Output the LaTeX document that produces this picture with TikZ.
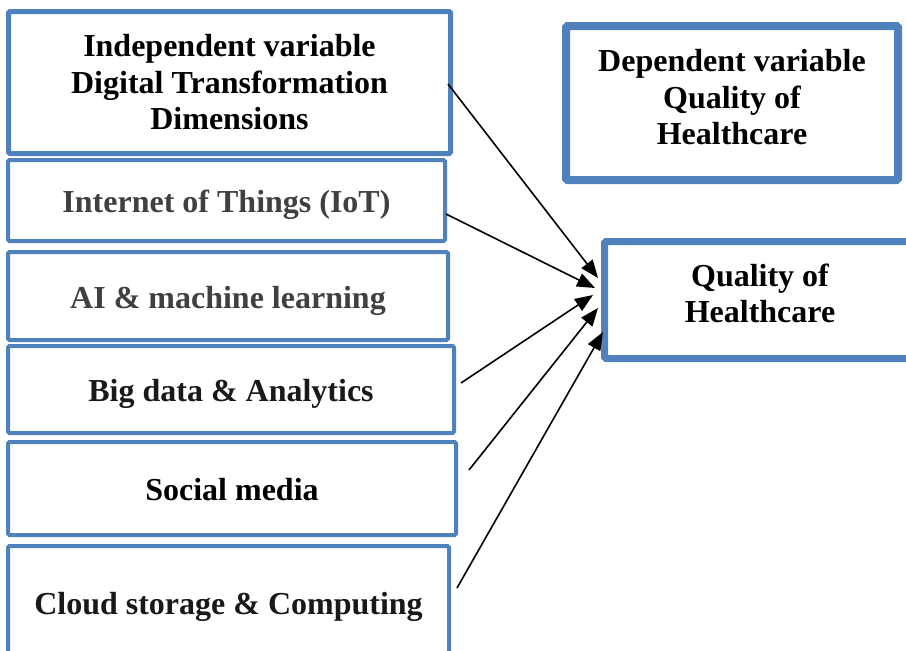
\documentclass[tikz,border=0pt]{standalone}
\usepackage{fontspec}
\setmainfont{Liberation Serif}
\usetikzlibrary{arrows.meta,positioning,calc}
\definecolor{boxblue}{HTML}{4F81BD}

\begin{document}
\begin{tikzpicture}
[x=1pt, y=-1pt,
box/.style = 
{draw=boxblue, line width=4pt, rounded corners=1.5pt, align=center, inner sep=0pt,
 font=\fontsize{32}{36.5}\selectfont\bfseries},
dim/.style = {box, text height=24pt, text depth=0pt},
link/.style = {-{Triangle[length=18pt,width=14pt]}, line width=1.6pt}]
\useasboundingbox (0,0) rectangle (906,651);

\node [box, line width=5pt, anchor=north west, minimum width=442pt, minimum height=142pt]
  (iv) at (6,9) {Independent variable\\Digital Transformation\\Dimensions};
\node [dim, text=black!75, below right=2pt and 0pt of iv.south west, minimum width=437pt, minimum height=81pt]
  (iot) {Internet of Things (IoT)};
\node [dim, text=black!75, below right=7pt and 0pt of iot.south west, minimum width=440pt, minimum height=88pt]
  (ai) {AI \& machine learning};
\node [dim, text=black!90, below right=2pt and 0pt of ai.south west, minimum width=446pt, minimum height=87pt]
  (bd) {Big data \& Analytics};
\node [dim, below right=5pt and 0pt of bd.south west, minimum width=448pt, minimum height=93pt]
  (sm) {Social media};
\node [dim, text=black!90, below right=7pt and 0pt of sm.south west, minimum width=441pt, minimum height=112pt]
  (cl) {Cloud storage \& Computing};

\node [box, line width=8pt, text depth=12pt, anchor=north west, minimum width=332pt, minimum height=154pt]
  (dv) at (562,22) {Dependent variable\\Quality of\\Healthcare};
\node [box, line width=7pt, text depth=14pt, below right=54pt and 39pt of dv.south west,
  minimum width=311pt, minimum height=117pt]
  (qh) {Quality of\\Healthcare};

\draw[link] ([shift={(-5,1.5)}]iv.east) -- ([shift={(-3,-22)}]qh.west);
\draw[link] ([shift={(-1,13.5)}]iot.east) -- ([shift={(-6,-12)}]qh.west);
\draw[link] ([shift={(5,-6.5)}]bd.east) -- ([shift={(-8,-5)}]qh.west);
\draw[link] ([shift={(11,-18.5)}]sm.east) -- ([shift={(-3,8)}]qh.west);
\draw[link] ([shift={(6,-14)}]cl.east) -- ([shift={(2,32)}]qh.west);

\end{tikzpicture}
\end{document}
